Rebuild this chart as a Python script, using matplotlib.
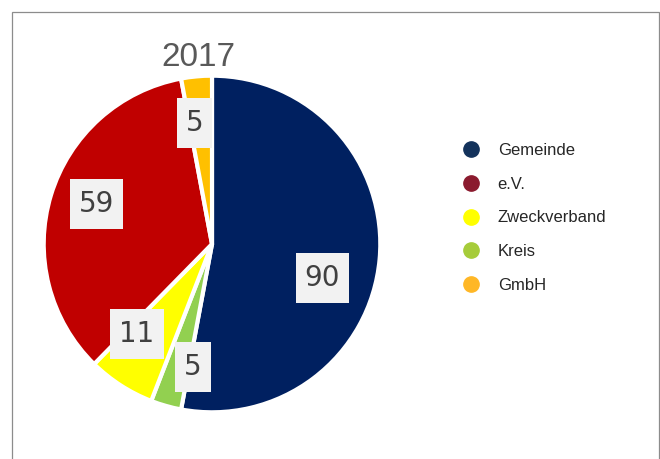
import numpy as np
import matplotlib
matplotlib.use("Agg")
import matplotlib.pyplot as plt
from matplotlib.lines import Line2D
from matplotlib.patches import Rectangle

# pie slices, clockwise from 12 o'clock
slice_names = ['Gemeinde', 'Kreis', 'Zweckverband', 'e.V.', 'GmbH']
slice_values = [90, 5, 11, 59, 5]
slice_colors = ['#002060', '#92D050', '#FFFF00', '#C00000', '#FFC000']

# legend order and colours as shown in the chart
legend_names = ['Gemeinde', 'e.V.', 'Zweckverband', 'Kreis', 'GmbH']
legend_colors = ['#13325B', '#8B1A2E', '#FFFF00', '#A6CC3A', '#FFB726']

# label placement: radius (fraction) and angle shift from the slice middle (deg)
label_r = [0.68, 0.73, 0.69, 0.72, 0.72]
label_shift = [12, -7, 7, 2, -3]

W, H = 660, 459
fig = plt.figure(figsize=(6.6, 4.59), dpi=100)

# outer frame
fig.patches.append(Rectangle((12 / W, -0.05), 647 / W, 1.05 - 12 / H,
                             transform=fig.transFigure, fill=False,
                             edgecolor='#8C8C8C', linewidth=0.9))

ax = fig.add_axes([42 / W, 45 / H, 340 / W, 340 / H])
wedges, _ = ax.pie(slice_values, colors=slice_colors, startangle=90,
                   counterclock=False, radius=0.99,
                   wedgeprops=dict(edgecolor='white', linewidth=3))
ax.set_xlim(-1, 1)
ax.set_ylim(-1, 1)
ax.set_aspect('equal')
ax.axis('off')

# data labels
total = sum(slice_values)
start = 0
labels = []
for v, r, sh in zip(slice_values, label_r, label_shift):
    mid = start + v / total * 360 / 2
    start += v / total * 360
    th = np.radians(mid + sh)
    t = ax.text(r * np.sin(th), r * np.cos(th), str(v), ha='center',
                va='center', fontsize=20, color='#404040',
                family='DejaVu Sans', zorder=5)
    labels.append(t)

# grey boxes behind the labels (fixed height, text width + padding)
fig.canvas.draw()
renderer = fig.canvas.get_renderer()
for t in labels:
    bb = t.get_window_extent(renderer)
    cx = (bb.x0 + bb.x1) / 2
    cy = (bb.y0 + bb.y1) / 2
    bw = bb.width + 18
    bh = 50
    fig.patches.append(Rectangle(((cx - bw / 2) / W, (cy - bh / 2) / H),
                                 bw / W, bh / H, transform=fig.transFigure,
                                 facecolor='#F2F2F2', edgecolor='none',
                                 zorder=4))
    t.remove()
    fig.text(cx / W, cy / H, t.get_text(), ha='center', va='center',
             fontsize=20, color='#404040', family='DejaVu Sans', zorder=6)

fig.text(198 / W, 1 - 57 / H, '2017', ha='center', va='center',
         fontsize=24, color='#595959', family='Liberation Sans')

handles = [Line2D([], [], linestyle='none', marker='o', markersize=11,
                  markerfacecolor=c, markeredgecolor=c) for c in legend_colors]
leg = fig.legend(handles, legend_names, loc='center left',
                 bbox_to_anchor=(446 / W, 1 - 218 / H), frameon=False,
                 prop={'family': 'Liberation Sans', 'size': 12},
                 labelspacing=1.13, handletextpad=1.0, handlelength=1.2)
for t in leg.get_texts():
    t.set_color('#262626')

fig.savefig('out.png', dpi=100)
